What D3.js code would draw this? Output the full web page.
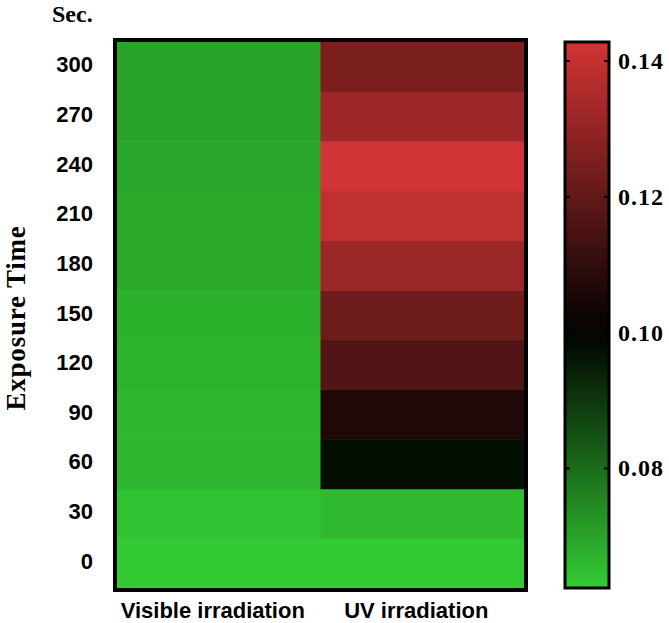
<!DOCTYPE html>
<html>
<head>
<meta charset="utf-8">
<script src="https://cdn.jsdelivr.net/npm/d3@7"></script>
<style>
  html, body { margin: 0; padding: 0; background: #fff; }
  svg { display: block; }
</style>
</head>
<body>
<div id="chart"></div>
<script>
// Heatmap of exposure time vs irradiation type
const columns = ['Visible irradiation', 'UV irradiation'];
const times = [0, 30, 60, 90, 120, 150, 180, 210, 240, 270, 300];
const visibleValues = [0.0625, 0.0640, 0.0662, 0.0664, 0.0669, 0.0673, 0.0689, 0.0691, 0.0693, 0.0697, 0.0699];
const uvValues = [0.0625, 0.0657, 0.0972, 0.1065, 0.1168, 0.1225, 0.1315, 0.1393, 0.1426, 0.1323, 0.1250];
const colorTicks = [0.08, 0.10, 0.12, 0.14];
const colorDomain = [0.0624, 0.10, 0.1428];

const width = 669, height = 623;
const svg = d3.select('#chart').append('svg')
    .attr('width', width)
    .attr('height', height);

const cells = [];
times.forEach((t, i) => {
    cells.push({ col: columns[0], time: t, value: visibleValues[i] });
    cells.push({ col: columns[1], time: t, value: uvValues[i] });
});

const x = d3.scaleBand().domain(columns).range([117, 524]);
const y = d3.scaleBand().domain(times.slice().reverse()).range([42, 588]);
const color = d3.scaleLinear()
    .domain(colorDomain)
    .range(['#33cc33', '#000000', '#d23434']);

// cells
svg.append('g').selectAll('rect')
    .data(cells)
    .enter()
    .append('rect')
    .attr('x', d => x(d.col))
    .attr('y', d => y(d.time))
    .attr('width', x.bandwidth() + 0.5)
    .attr('height', y.bandwidth() + 0.5)
    .attr('fill', d => color(d.value));

// frame
svg.append('rect')
    .attr('x', 115).attr('y', 40)
    .attr('width', 411).attr('height', 550)
    .attr('fill', 'none')
    .attr('stroke', '#000')
    .attr('stroke-width', 4);

// y labels
svg.append('g').selectAll('text')
    .data(times)
    .enter()
    .append('text')
    .attr('x', 93)
    .attr('y', d => y(d) + y.bandwidth() / 2 - 2)
    .attr('text-anchor', 'end')
    .attr('dominant-baseline', 'central')
    .attr('font-family', '"Liberation Sans", Arial, sans-serif')
    .attr('font-weight', 'bold')
    .attr('font-size', 22)
    .text(d => d);

// x labels
svg.append('g').selectAll('text')
    .data(columns)
    .enter()
    .append('text')
    .attr('x', d => x(d) + x.bandwidth() / 2 - 6)
    .attr('y', 618)
    .attr('text-anchor', 'middle')
    .attr('font-family', '"Liberation Sans", Arial, sans-serif')
    .attr('font-weight', 'bold')
    .attr('font-size', 22)
    .text(d => d);

// titles
svg.append('text')
    .attr('x', 52).attr('y', 22)
    .attr('font-family', '"Liberation Serif", "Times New Roman", serif')
    .attr('font-weight', 'bold')
    .attr('font-size', 24)
    .text('Sec.');

svg.append('text')
    .attr('transform', 'translate(25, 318) rotate(-90)')
    .attr('text-anchor', 'middle')
    .attr('font-family', '"Liberation Serif", "Times New Roman", serif')
    .attr('font-weight', 'bold')
    .attr('font-size', 27)
    .attr('letter-spacing', 0.8)
    .text('Exposure Time');

// colour bar
const barX = 565, barW = 44, barTop = 42, barBottom = 588;
const cy = d3.scaleLinear()
    .domain([colorDomain[0], colorDomain[2]])
    .range([barBottom, barTop]);

const defs = svg.append('defs');
const grad = defs.append('linearGradient')
    .attr('id', 'cbar')
    .attr('x1', '0%').attr('x2', '0%')
    .attr('y1', '100%').attr('y2', '0%');
const span = colorDomain[2] - colorDomain[0];
d3.range(0, 1.0001, 0.05).forEach(t => {
    grad.append('stop')
        .attr('offset', (t * 100) + '%')
        .attr('stop-color', color(colorDomain[0] + t * span));
});

svg.append('rect')
    .attr('x', barX).attr('y', barTop)
    .attr('width', barW).attr('height', barBottom - barTop)
    .attr('fill', 'url(#cbar)')
    .attr('stroke', '#000')
    .attr('stroke-width', 3);

const tickG = svg.append('g').selectAll('g')
    .data(colorTicks)
    .enter()
    .append('g')
    .attr('transform', d => `translate(0, ${cy(d)})`);

tickG.append('line')
    .attr('x1', barX).attr('x2', barX + 5)
    .attr('stroke', '#000').attr('stroke-width', 2);
tickG.append('line')
    .attr('x1', barX + barW - 5).attr('x2', barX + barW)
    .attr('stroke', '#000').attr('stroke-width', 2);
tickG.append('text')
    .attr('x', 618)
    .attr('dominant-baseline', 'central')
    .attr('font-family', '"Liberation Serif", "Times New Roman", serif')
    .attr('font-weight', 'bold')
    .attr('font-size', 24)
    .attr('letter-spacing', 1)
    .text(d => d3.format('.2f')(d));
</script>
</body>
</html>
